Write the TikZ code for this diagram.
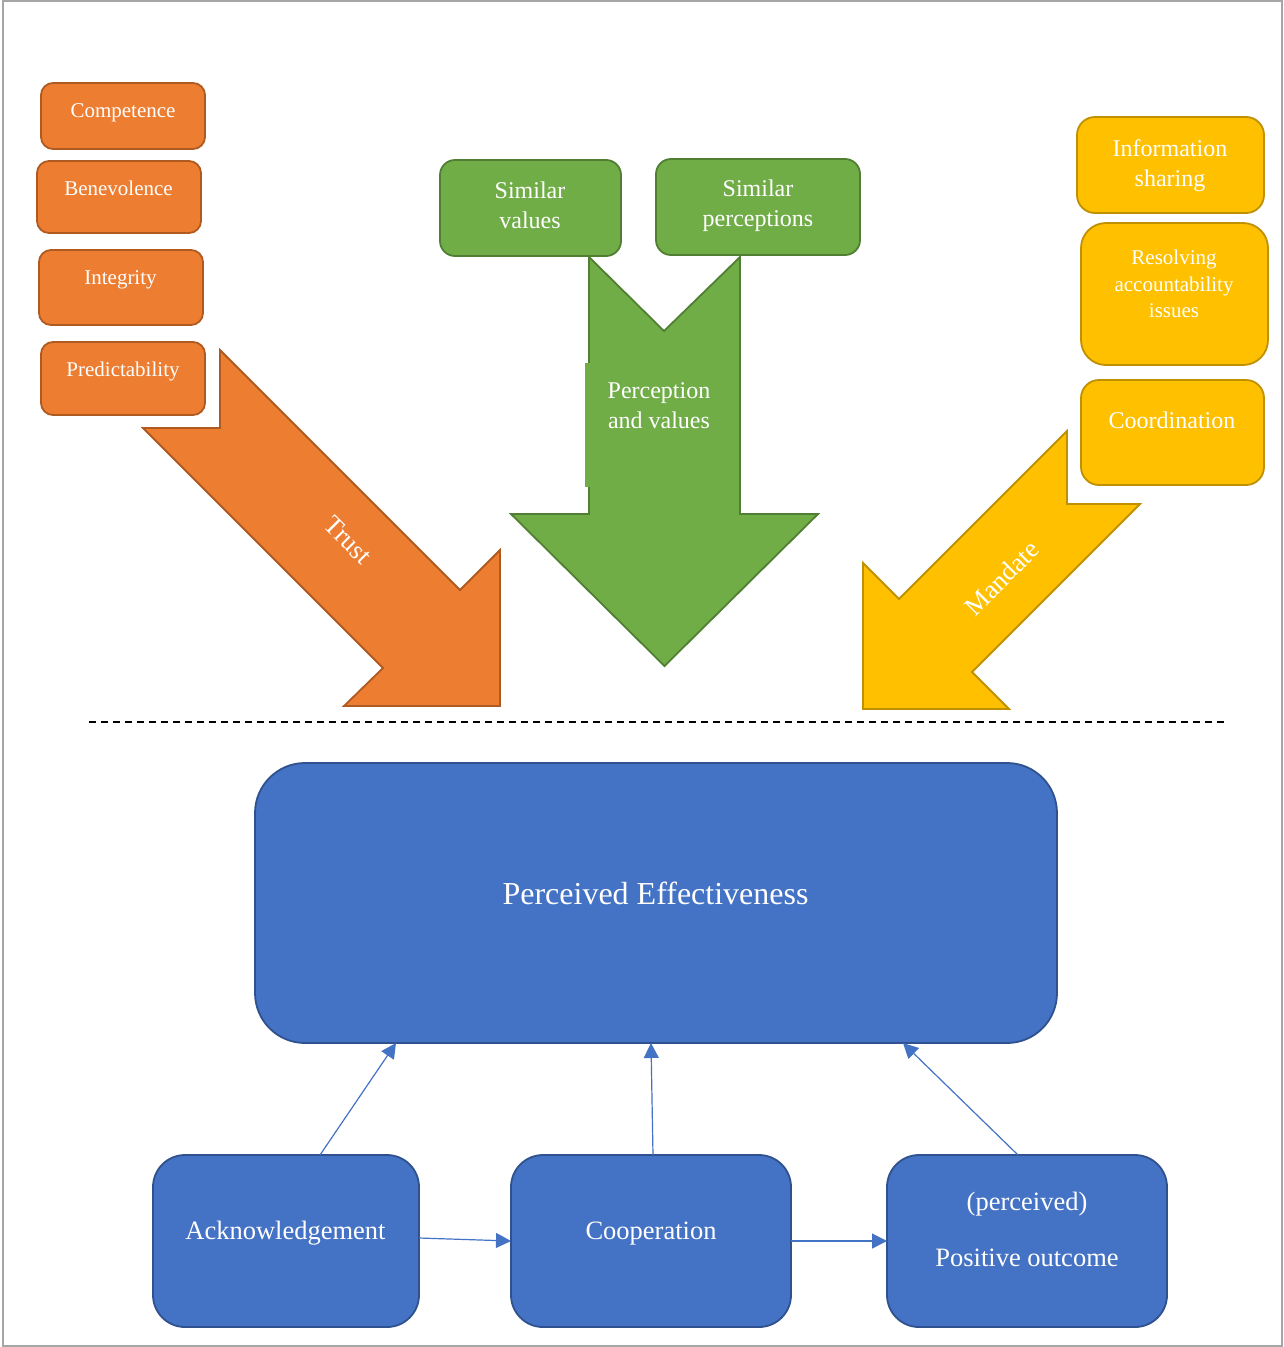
\documentclass[tikz,border=0pt]{standalone}
\usepackage{fontspec}
\setmainfont{Liberation Serif}
\usetikzlibrary{calc,arrows.meta}
\definecolor{oFill}{HTML}{ED7D31}
\definecolor{oLine}{HTML}{AE5A21}
\definecolor{gFill}{HTML}{70AD47}
\definecolor{gLine}{HTML}{507E32}
\definecolor{yFill}{HTML}{FFC000}
\definecolor{yLine}{HTML}{BF9000}
\definecolor{bFill}{HTML}{4472C4}
\definecolor{bLine}{HTML}{2F528F}
\definecolor{frameGray}{HTML}{A6A6A6}
\begin{document}
\begin{tikzpicture}[x=1pt,y=-1pt,
  every node/.style={inner sep=0pt,outer sep=0pt},
  obox/.style={draw=oLine,fill=oFill,line width=1.8pt,rounded corners=12pt},
  gbox/.style={draw=gLine,fill=gFill,line width=1.8pt,rounded corners=15pt},
  ybox/.style={draw=yLine,fill=yFill,line width=1.8pt,rounded corners=18pt},
  bbox/.style={draw=bLine,fill=bFill,line width=1.8pt,rounded corners=32pt},
  wtxt/.style={text=white,align=center,anchor=base},
  fO/.style={font=\fontsize{21}{25}\selectfont},
  fG/.style={font=\fontsize{24}{30}\selectfont},
  fR/.style={font=\fontsize{21}{26.5}\selectfont},
  fB/.style={font=\fontsize{26.5}{32}\selectfont},
  fP/.style={font=\fontsize{32}{38}\selectfont},
  fA/.style={font=\fontsize{26.5}{32}\selectfont},
  conn/.style={draw=bFill,line width=1.2pt,-{Triangle[length=15pt,width=15pt]}},
  oarrow/.style={draw=oLine,fill=oFill,line width=1.8pt,line join=miter},
  garrow/.style={draw=gLine,fill=gFill,line width=1.8pt,line join=miter},
  yarrow/.style={draw=yLine,fill=yFill,line width=1.8pt,line join=miter}]
\useasboundingbox (0,0) rectangle (1283,1347);
\fill[white] (0,0) rectangle (1283,1347);
\draw[frameGray,line width=2pt] (3,1) rectangle (1282,1346);

% separator
\draw[black,line width=1.5pt,dash pattern=on 7pt off 5pt] (89,722) -- (1226,722);

% big arrows
\draw[oarrow] (220,350) -- (460,590) -- (500,550) -- (500,706) -- (344,706)
  -- (383,668) -- (143,428) -- (220,428) -- cycle;
\draw[garrow] (589,257) -- (664,331) -- (740,257) -- (740,514) -- (818,514)
  -- (664.5,666) -- (511,514) -- (589,514) -- cycle;
\draw[yarrow] (1067,431) -- (1067,504) -- (1140,504) -- (972,672) -- (1009,709)
  -- (863,709) -- (863,563) -- (899,599) -- cycle;
\fill[gFill] (585,363) rectangle (736,487);

% orange boxes
\node[obox,minimum width=164pt,minimum height=66pt] (comp) at (123,116) {};
\node[obox,minimum width=164pt,minimum height=72pt] (bene) at (119,197) {};
\node[obox,minimum width=164pt,minimum height=75pt] (integ) at (121,287.5) {};
\node[obox,minimum width=164pt,minimum height=73pt] (pred) at (123,378.5) {};
\node[wtxt,fO] (compT) at (123,117.5) {Competence};
\node[wtxt,fO] (beneT) at (118.5,195.5) {Benevolence};
\node[wtxt,fO] (integT) at (120.5,284) {Integrity};
\node[wtxt,fO] (predT) at (123,376) {Predictability};

% green boxes
\node[gbox,minimum width=181pt,minimum height=96pt] (sv) at (530.5,208) {};
\node[gbox,minimum width=204pt,minimum height=96pt] (sp) at (758,207) {};
\node[wtxt,fG] (svT) at (530,228) {Similar\\values};
\node[wtxt,fG] (spT) at (758,226.5) {Similar\\perceptions};
\node[wtxt,fG] (pvT) at (659,428) {Perception\\and values};

% yellow boxes
\node[ybox,minimum width=187pt,minimum height=96pt] (info) at (1170.5,165) {};
\node[ybox,minimum width=187pt,minimum height=142pt,rounded corners=25pt] (res) at (1174.5,294) {};
\node[ybox,minimum width=183pt,minimum height=105pt] (coord) at (1172.5,432.5) {};
\node[wtxt,fG] (infoT) at (1170,186) {Information\\sharing};
\node[wtxt,fR] (resT) at (1174,317.5) {Resolving\\accountability\\issues};
\node[wtxt,fG] (coordT) at (1172,428.5) {Coordination};

% arrow labels
\node[text=white,fA,rotate=-45] (trustT) at (348,540) {Trust};
\node[text=white,fA,rotate=45] (mandT) at (1002,578) {Mandate};

% blue boxes
\node[bbox,minimum width=802pt,minimum height=280pt,rounded corners=50pt] (pe) at (656,903) {};
\node[bbox,minimum width=266pt,minimum height=172pt] (ack) at (286,1241) {};
\node[bbox,minimum width=280pt,minimum height=172pt] (coop) at (651,1241) {};
\node[bbox,minimum width=280pt,minimum height=172pt] (pos) at (1027,1241) {};
\node[wtxt,fP] (peT) at (655.5,904) {Perceived Effectiveness};
\node[wtxt,fB] (ackT) at (285.5,1239) {Acknowledgement};
\node[wtxt,fB] (coopT) at (651,1239) {Cooperation};
\node[wtxt,fB] (posT) at (1027,1266) {(perceived)\\[24pt]Positive outcome};

% connectors
\draw[conn] ([xshift=34pt]ack.north) -- ([xshift=-260pt]pe.south);
\draw[conn] ([xshift=2pt]coop.north) -- ([xshift=-5pt]pe.south);
\draw[conn] ([xshift=-9pt]pos.north) -- ([xshift=247pt]pe.south);
\draw[conn] ([yshift=3pt]ack.east) -- (coop.west);
\draw[conn] (coop.east) -- (pos.west);
\end{tikzpicture}
\end{document}
